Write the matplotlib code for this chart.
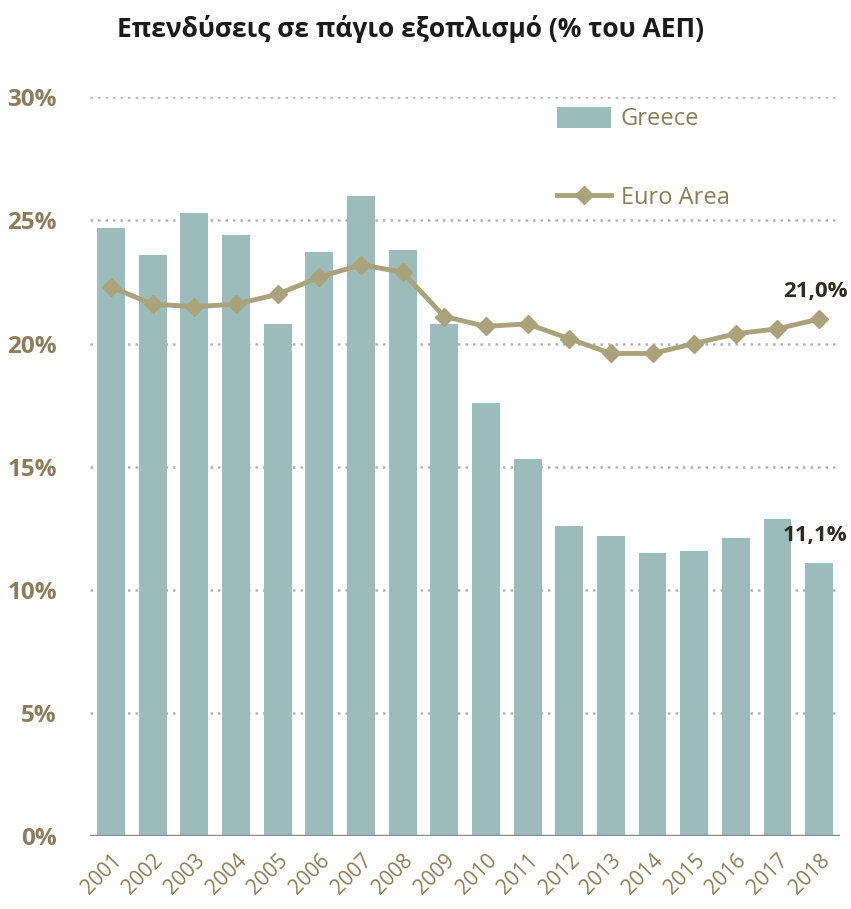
import matplotlib
matplotlib.use("Agg")
import matplotlib.pyplot as plt
import numpy as np

plt.rcParams['font.family'] = ['Open Sans', 'DejaVu Sans']

years = [str(y) for y in range(2001, 2019)]
greece = [24.7, 23.6, 25.3, 24.4, 20.8, 23.7, 26.0, 23.8, 20.8, 17.6,
          15.3, 12.6, 12.2, 11.5, 11.6, 12.1, 12.9, 11.1]
euro_area = [22.3, 21.6, 21.5, 21.6, 22.0, 22.7, 23.2, 22.9, 21.1, 20.7,
             20.8, 20.2, 19.6, 19.6, 20.0, 20.4, 20.6, 21.0]
yticks = [0, 5, 10, 15, 20, 25, 30]

bar_col = '#9bbcbb'
line_col = '#a9a27a'
txt_col = '#8b7d5b'

fig = plt.figure(figsize=(8.51, 9.09), dpi=100)
ax = fig.add_axes([0.106, 0.080, 0.881, 0.813])

x = np.arange(len(years))
bars = ax.bar(x, greece, width=0.67, color=bar_col, label='Greece', zorder=2)
line, = ax.plot(x, euro_area, color=line_col, lw=3.5, marker='D', ms=9,
                label='Euro Area', zorder=3)

# grid
for v in yticks[1:]:
    ax.axhline(v, color='#b3b3b3', lw=1.8, ls=(0, (1, 2)), zorder=1)
ax.axhline(0, color='#8c8c8c', lw=2.5, zorder=4)

ax.set_xlim(-0.5, len(years) - 0.5)
ax.set_ylim(0, 30)
ax.set_yticks(yticks)
ax.set_yticklabels([f'{v}%' for v in yticks], fontsize=17.5, fontweight='bold',
                   color=txt_col)
ax.set_xticks(x)
ax.set_xticklabels(years, rotation=45, ha='right', rotation_mode='anchor',
                   fontsize=15, color=txt_col)
ax.tick_params(length=0, pad=10)
ax.tick_params(axis='y', pad=24)
for s in ax.spines.values():
    s.set_visible(False)

# end labels
ax.text(x[-1] - 0.1, euro_area[-1] + 0.7, '21,0%', ha='center', va='bottom',
        fontsize=16, fontweight='bold', color='#2e2a22')
ax.text(x[-1] - 0.1, greece[-1] + 0.7, '11,1%', ha='center', va='bottom',
        fontsize=16, fontweight='bold', color='#2e2a22')

ax.legend([bars, line], ['Greece', 'Euro Area'], loc='upper left',
          bbox_to_anchor=(0.61, 1.0), borderaxespad=0, frameon=False,
          fontsize=17, labelcolor=txt_col, labelspacing=2.3,
          handlelength=2.3, handleheight=1.0, handletextpad=0.4)

fig.text(0.482, 0.968, 'Επενδύσεις σε πάγιο εξοπλισμό (% του ΑΕΠ)',
         ha='center', va='center', fontsize=19, fontweight='bold',
         color='#1a1a1a')

fig.savefig('out.png', dpi=100)
